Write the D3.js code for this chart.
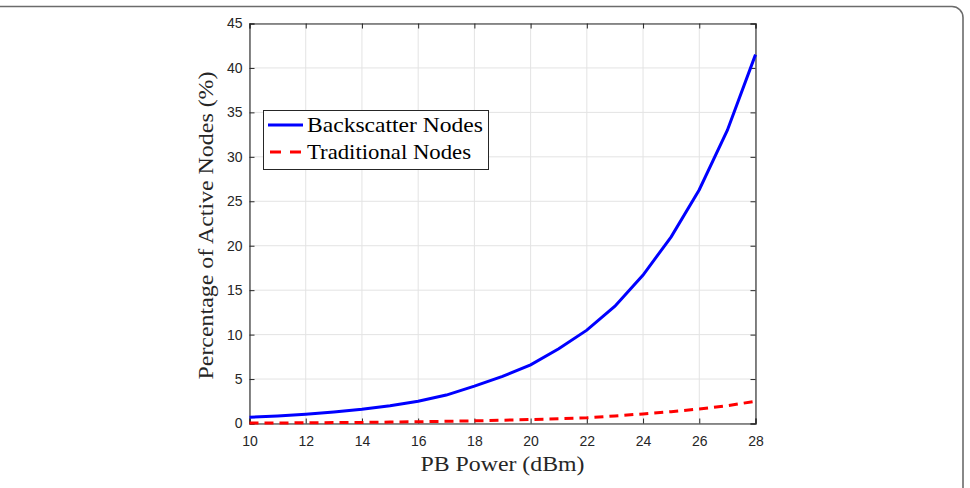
<!DOCTYPE html>
<html><head><meta charset="utf-8">
<script src="https://cdn.jsdelivr.net/npm/d3@7"></script>
<style>body{margin:0;background:#fff}svg{display:block}</style>
</head><body>
<script>
const powerDbm = [10,11,12,13,14,15,16,17,18,19,20,21,22,23,24,25,26,27,28];
const backscatter = [0.7,0.85,1.05,1.3,1.6,2.0,2.5,3.2,4.2,5.3,6.6,8.4,10.5,13.2,16.7,21.0,26.3,33.0,41.5];
const traditional = [0.05,0.06,0.08,0.10,0.12,0.16,0.2,0.25,0.3,0.37,0.45,0.53,0.64,0.85,1.08,1.33,1.64,2.0,2.5];
const xTicks = [10,12,14,16,18,20,22,24,26,28];
const yTicks = [0,5,10,15,20,25,30,35,40,45];
const seriesNames = ["Backscatter Nodes","Traditional Nodes"];

const W=970,H=488;
const svg=d3.select("body").append("svg").attr("width",W).attr("height",H);
svg.append("rect").attr("x",-12).attr("y",6.5).attr("width",975).attr("height",500)
  .attr("rx",11).attr("fill","none").attr("stroke","#6b6b6b").attr("stroke-width",1.6);

const L=249.5,R=755.5,T=23.5,B=423.5;
const x=d3.scaleLinear().domain([10,28]).range([L,R]);
const y=d3.scaleLinear().domain([0,45]).range([B,T]);
const g=svg.append("g");
// grid
g.selectAll(".gx").data(xTicks).join("line").attr("x1",d=>x(d)).attr("x2",d=>x(d)).attr("y1",T).attr("y2",B)
  .attr("stroke","#e3e3e3").attr("stroke-width",1);
g.selectAll(".gy").data(yTicks).join("line").attr("y1",d=>y(d)).attr("y2",d=>y(d)).attr("x1",L).attr("x2",R)
  .attr("stroke","#e3e3e3").attr("stroke-width",1);

// axes
const ax=d3.axisBottom(x).tickValues(xTicks).tickSize(-5).tickPadding(13);
const ay=d3.axisLeft(y).tickValues(yTicks).tickSize(-5).tickPadding(7);
const axT=d3.axisTop(x).tickValues(xTicks).tickSize(-5).tickFormat("");
const ayR=d3.axisRight(y).tickValues(yTicks).tickSize(-5).tickFormat("");
function style(sel){sel.attr("font-size",14).attr("font-family","'Liberation Sans',Arial,sans-serif");
  sel.select(".domain").attr("stroke","#262626").attr("stroke-width",1.1);
  sel.selectAll(".tick line").attr("stroke","#262626").attr("stroke-width",1);
  sel.selectAll("text").attr("fill","#262626");}
svg.append("g").attr("transform",`translate(0,${B})`).call(ax).call(style);
svg.append("g").attr("transform",`translate(${L},0)`).call(ay).call(style);
svg.append("g").attr("transform",`translate(0,${T})`).call(axT).call(style);
svg.append("g").attr("transform",`translate(${R},0)`).call(ayR).call(style);

// lines
const line=d3.line().x((d,i)=>x(powerDbm[i])).y(d=>y(d));
svg.append("path").datum(backscatter).attr("d",line).attr("fill","none").attr("stroke","#0000ff").attr("stroke-width",3);
svg.append("path").datum(traditional).attr("d",line).attr("fill","none").attr("stroke","#ff0000").attr("stroke-width",3).attr("stroke-dasharray","9,6");

// labels
svg.append("text").attr("x",(L+R)/2).attr("y",471).attr("text-anchor","middle")
  .style("font-family","'Liberation Serif',serif").style("font-size","21px").attr("fill","#262626")
  .attr("textLength",164).attr("lengthAdjust","spacingAndGlyphs").text("PB Power (dBm)");
svg.append("text").attr("transform",`translate(213,${(T+B)/2+2}) rotate(-90)`).attr("text-anchor","middle")
  .style("font-family","'Liberation Serif',serif").style("font-size","21px").attr("fill","#262626")
  .attr("textLength",308).attr("lengthAdjust","spacingAndGlyphs").text("Percentage of Active Nodes (%)");

// legend
const lg=svg.append("g");
lg.append("rect").attr("x",263.5).attr("y",110.5).attr("width",225).attr("height",59).attr("fill","#fff").attr("stroke","#262626").attr("stroke-width",1);
const cols=["#0000ff","#ff0000"],dashes=[null,"11,9"],ry=[125,152];
seriesNames.forEach((n,i)=>{
  lg.append("line").attr("x1",i==0?268:270).attr("x2",303).attr("y1",ry[i]).attr("y2",ry[i]).attr("stroke",cols[i]).attr("stroke-width",3).attr("stroke-dasharray",dashes[i]);
  lg.append("text").attr("x",307).attr("y",ry[i]+7).style("font-family","'Liberation Serif',serif").style("font-size","21px").attr("fill","#000")
   .attr("textLength",i==0?176:164).attr("lengthAdjust","spacingAndGlyphs").text(n);
});
</script>
</body></html>
